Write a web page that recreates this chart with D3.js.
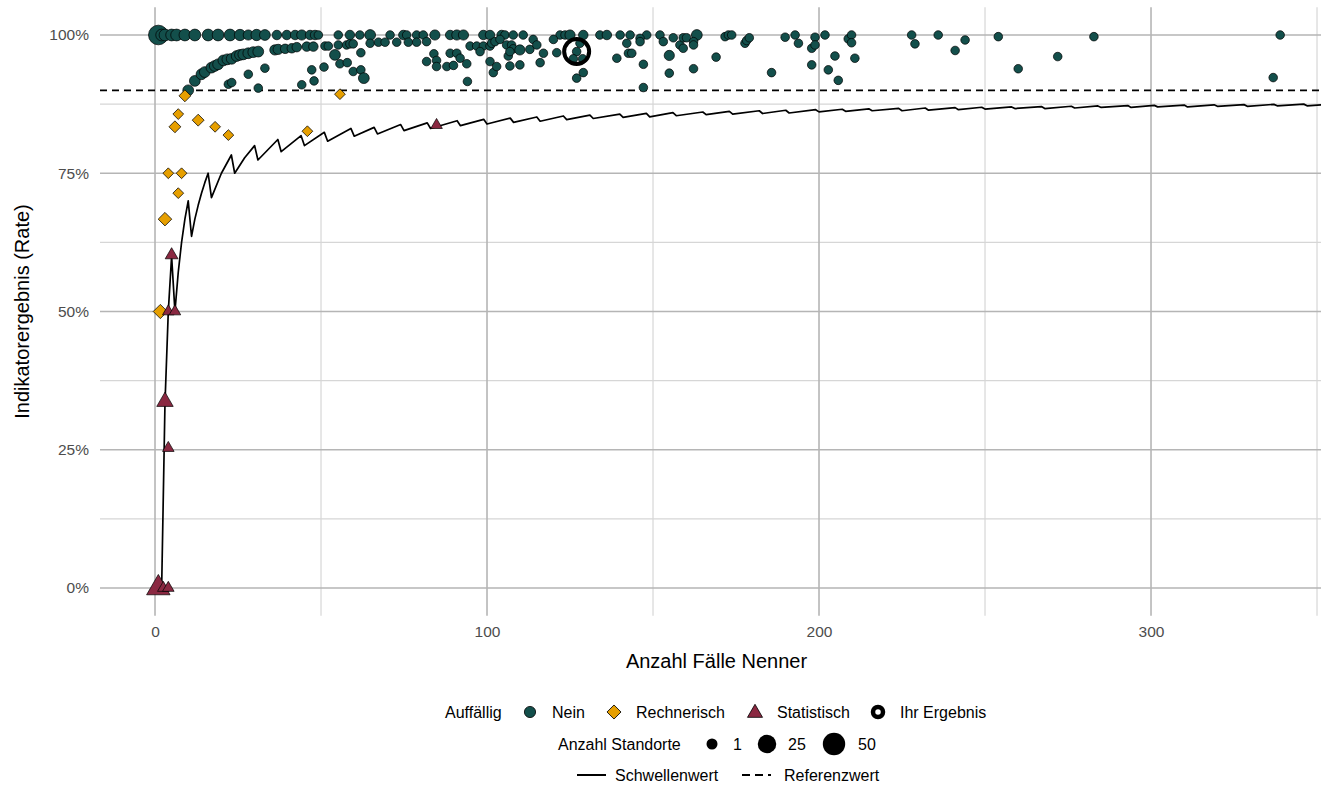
<!DOCTYPE html>
<html lang="de">
<head>
<meta charset="UTF-8">
<title>Indikatorergebnis</title>
<script src="https://cdn.jsdelivr.net/npm/d3@7"></script>
<style>
  body { margin: 0; background: #fff; }
  text { font-family: "Liberation Sans", Arial, Helvetica, sans-serif; }
  .axis-title { fill: #000; font-size: 20px; }
  .legend text { fill: #000; font-size: 16px; }
</style>
</head>
<body>
<script>
// ---- Daten: [Fälle Nenner, Rate, Anzahl Standorte] ----
var neinPoints = [
  // Rate = 100 %
  [1,1,36],[2,1,6],[3,1,6],[5,1,6],[6.5,1,6],[9,1,6],[12,1,6],[16,1,6],[19,1,6],[22.6,1,6],
  [25.6,1,5],[28.1,1,3],[30.6,1,5],[33.1,1,4],[36.7,1,2],[39.7,1,2],[42.2,1,2],[44.2,1,3],
  [46.7,1,2],[48.2,1,2],[49.2,1,1],[55.2,1,1],[58.7,1,2],[61.7,1,1],[64.8,1,4],[70.8,1,1],
  [74.8,1,2],[75.8,1,1],[78.8,1,1],[80.8,1,1],[84.3,1,3],[88.9,1,2],[90.9,1,3],[92.9,1,3],
  [98.9,1,2],[100.9,1,2],[104.4,1,2],[105.4,1,1],[107.9,1,1],[110.9,1,1],[122,1,1],[123.5,1,1],
  [125,1,3],[129,1,2],[134,1,1],[136.1,1,2],[140.1,1,1],[143.1,1,1],[148.1,1,1],[152.1,1,1],
  [163.2,1,4],[171.7,0.997,1],[172.7,1,1],[173.7,1,1],[189.8,0.996,1],[192.8,1,1],[198.8,0.996,1],
  [201.8,1,1],[208.8,0.993,1],[209.8,1,1],[227.9,1,1],[235.9,1,1],[254,0.997,1],[282.8,0.997,1],
  [338.9,1,1],
  // ein Fall nicht erfüllt
  [10,0.9,4],[12,0.917,4],[14,0.929,4],[15,0.933,4],[17,0.941,4],[18,0.944,4],[19,0.947,4],
  [20.6,0.954,4],[21.8,0.956,4],[23.1,0.957,4],[24.6,0.962,4],[25.6,0.964,4],[26.6,0.965,4],
  [28.1,0.967,4],[29.6,0.969,4],[31.1,0.97,4],
  [36.1,0.973,3],[37.1,0.974,3],[39.2,0.975,2],[41.2,0.976,2],[42.7,0.978,2],[45.7,0.979,2],
  [47.7,0.979,2],[51.2,0.98,1],[52.2,0.98,1],[55.2,0.982,1],[57.7,0.982,1],[58.7,0.984,1],
  [59.7,0.984,1],[64.8,0.985,1],[67.3,0.987,1],[69.3,0.987,1],[72.8,0.987,1],[76.3,0.987,1],
  [78.8,0.987,1],[81.8,0.988,1],
  // gestreut, bis 85 Fälle
  [22.1,0.911,1],[23.1,0.914,1],[28.1,0.929,1],[33.1,0.94,1],[31.1,0.904,1],[44.2,0.91,1],
  [47.2,0.937,1],[47.9,0.917,1],[50.9,0.942,1],[54.2,0.964,4],[55.7,0.948,1],[57.9,0.95,1],
  [59.7,0.934,1],[62,0.968,1],[62,0.937,1],[62.9,0.922,4],[81.8,0.952,1],[84,0.966,1],
  [84.8,0.954,1],[84.8,0.943,1],
  // 85 bis 130 Fälle
  [87.9,0.943,1],[89.9,0.945,1],[88.9,0.967,1],[90.9,0.967,1],[91.9,0.958,1],[93.9,0.948,1],
  [94.1,0.916,1],[94.9,0.98,1],[96.9,0.98,1],[98.9,0.98,1],[97.9,0.97,1],[100.9,0.98,1],
  [101.4,0.985,1],[102.4,0.988,1],[103.9,0.992,1],[100.9,0.952,1],[101.9,0.932,1],[102.9,0.943,1],
  [105.9,0.982,1],[107.4,0.982,1],[107.9,0.975,1],[106.4,0.962,1],[106.9,0.97,1],[106.9,0.944,1],
  [109.9,0.973,3],[109.9,0.946,1],[112.9,0.974,1],[113.9,0.992,1],[115,0.982,1],[116,0.95,1],
  [117,0.967,1],[120,0.992,1],[121,0.968,1],[127,0.97,1],[126,0.957,1],[128.8,0.957,1],
  [127,0.922,1],[129,0.932,1],[128,0.985,1],
  // 130 bis 215 Fälle
  [139.1,0.958,1],[142.1,0.985,1],[142.6,0.967,1],[143.6,0.967,1],[146.1,0.994,1],[146.1,0.988,1],
  [147.1,0.947,1],[147.1,0.905,1],[153.1,0.988,1],[154.9,0.963,3],[154.9,0.931,1],[156.1,0.995,1],
  [158.1,0.982,1],[159.1,0.995,1],[160.1,0.995,1],[159.1,0.976,1],[162.2,0.988,1],[162.2,0.982,1],
  [162.2,0.939,1],[169,0.96,1],[177.7,0.985,1],[178.2,0.99,1],[179,0.995,1],[185.7,0.932,1],
  [193.8,0.985,1],[197.8,0.976,1],[198.8,0.982,1],[197.8,0.946,1],[202.8,0.937,1],[204.8,0.962,1],
  [205.8,0.918,1],[209.8,0.986,1],[210.8,0.958,1],
  // über 215 Fälle
  [228.9,0.984,1],[241,0.972,1],[244,0.991,1],[260,0.939,1],[271.9,0.961,1],[336.8,0.923,1]
];

var rechnerischPoints = [
  [1.6,0.5,5],[3,0.667,4],[4,0.75,1],[8,0.75,1],[7,0.714,1],[9,0.89,2],[7,0.857,1],
  [6,0.834,2],[13,0.846,2],[18.1,0.834,1],[22.1,0.819,1],[45.9,0.826,1],[55.7,0.893,1]
];

var statistischPoints = [
  [1,0,25],[2.5,0,1],[4,0,1],[3,0.337,7],[4,0.253,1],[4,0.5,1],[6,0.5,1],[5,0.602,2],[84.8,0.837,1]
];

// Schwellenwert (Eckpunkte der Sägezahnlinie)
var schwelleN = [1,2,3,4,5,6,7,8,9,10,11,12,13,14,15,16,17,20,23,24,27,30,31,37,38,44,45,51,52,
  59,60,66,67,74,75,82,83,91,92,99,100,107,108,115,116,123,124,131,132,140,141,148,149,156,157,
  165,166,173,174,182,183,190,191,199,200,207,208,215,216,224,225,232,233,241,242,249,250,258,259,
  267,268,276,277,284,285,293,294,301,302,310,311,319,320,328,329,337,338,346,347,352];
var schwelleRate = [0,0,0.333,0.5,0.6,0.5,0.571,0.625,0.667,0.7,0.636,0.667,0.692,0.714,0.733,0.75,
  0.706,0.75,0.783,0.75,0.778,0.8,0.774,0.811,0.789,0.818,0.8,0.824,0.808,0.831,0.817,0.833,0.821,
  0.838,0.827,0.841,0.831,0.845,0.836,0.8475,0.839,0.8497,0.842,0.8518,0.844,0.8536,0.847,0.8552,
  0.849,0.8569,0.851,0.8583,0.852,0.8595,0.854,0.8608,0.856,0.8619,0.857,0.863,0.858,0.8639,0.859,
  0.8649,0.861,0.8657,0.862,0.8665,0.863,0.8673,0.863,0.868,0.864,0.8687,0.865,0.8693,0.866,0.87,
  0.867,0.8706,0.867,0.8712,0.868,0.8717,0.869,0.8723,0.869,0.8727,0.87,0.8732,0.87,0.8737,0.871,
  0.8741,0.871,0.8746,0.872,0.875,0.872,0.874];

var referenzwert = 0.9;
var ihrErgebnis = [127, 0.97];

var xTicks = [0, 100, 200, 300];
var xMinor = [50, 150, 250, 350];
var yTicks = [0, 0.25, 0.5, 0.75, 1];
var yMinor = [0.125, 0.375, 0.625, 0.875];
var legendSizes = [1, 25, 50];

// ---- Aufbau ----
var width = 1321, height = 787;
var panel = {left: 100, right: 1321, top: 7.35, bottom: 615.65};

var svg = d3.select("body").append("svg")
  .attr("width", width)
  .attr("height", height);

var x = d3.scaleLinear().domain([-16.57, 351.2]).range([panel.left, panel.right]);
var y = d3.scaleLinear().domain([-0.05, 1.05]).range([panel.bottom, panel.top]);
var size = d3.scaleSqrt().domain([1, 50]).range([4.3, 11]);
var legendSize = d3.scaleSqrt().domain([1, 50]).range([5.5, 11.2]);

var colNein = "#134f4b", colRech = "#e69f00", colStat = "#8a2841";

svg.append("clipPath").attr("id", "panel")
  .append("rect")
  .attr("x", panel.left).attr("y", panel.top)
  .attr("width", panel.right - panel.left).attr("height", panel.bottom - panel.top);

// Gitter
var grid = svg.append("g");
grid.selectAll(".xminor").data(xMinor).enter().append("line")
  .attr("x1", function(d) { return x(d); }).attr("x2", function(d) { return x(d); })
  .attr("y1", panel.top).attr("y2", panel.bottom)
  .attr("stroke", "#d6d6d6").attr("stroke-width", 1.2);
grid.selectAll(".yminor").data(yMinor).enter().append("line")
  .attr("x1", panel.left).attr("x2", panel.right)
  .attr("y1", function(d) { return y(d); }).attr("y2", function(d) { return y(d); })
  .attr("stroke", "#d6d6d6").attr("stroke-width", 1.2);
grid.selectAll(".xmajor").data(xTicks).enter().append("line")
  .attr("x1", function(d) { return x(d); }).attr("x2", function(d) { return x(d); })
  .attr("y1", panel.top).attr("y2", panel.bottom)
  .attr("stroke", "#b5b5b5").attr("stroke-width", 1.6);
grid.selectAll(".ymajor").data(yTicks).enter().append("line")
  .attr("x1", panel.left).attr("x2", panel.right)
  .attr("y1", function(d) { return y(d); }).attr("y2", function(d) { return y(d); })
  .attr("stroke", "#b5b5b5").attr("stroke-width", 1.6);

// Achsen
var xAxis = svg.append("g")
  .attr("transform", "translate(0," + panel.bottom + ")")
  .call(d3.axisBottom(x).tickValues(xTicks).tickSize(0).tickPadding(10).tickFormat(d3.format("d")));
var yAxis = svg.append("g")
  .attr("transform", "translate(" + panel.left + ",0)")
  .call(d3.axisLeft(y).tickValues(yTicks).tickSize(0).tickPadding(11).tickFormat(d3.format(".0%")));
[xAxis, yAxis].forEach(function(a) {
  a.select(".domain").remove();
  a.selectAll("text")
    .attr("fill", "#4d4d4d")
    .style("font-size", "15.5px")
    .style("font-family", "'Liberation Sans', Arial, Helvetica, sans-serif");
});

svg.append("text").attr("class", "axis-title")
  .attr("x", (panel.left + panel.right) / 2 + 6).attr("y", 668)
  .attr("text-anchor", "middle")
  .text("Anzahl Fälle Nenner");
svg.append("text").attr("class", "axis-title")
  .attr("transform", "translate(29," + y(0.5) + ") rotate(-90)")
  .attr("text-anchor", "middle")
  .text("Indikatorergebnis (Rate)");

var plot = svg.append("g").attr("clip-path", "url(#panel)");

// Referenzwert und Schwellenwert
plot.append("line")
  .attr("x1", panel.left).attr("x2", panel.right)
  .attr("y1", y(referenzwert)).attr("y2", y(referenzwert))
  .attr("stroke", "#000").attr("stroke-width", 1.7)
  .attr("stroke-dasharray", "7,5");

var schwelle = schwelleN.map(function(n, i) { return [n, schwelleRate[i]]; });
plot.append("path")
  .datum(schwelle)
  .attr("fill", "none")
  .attr("stroke", "#000")
  .attr("stroke-width", 1.7)
  .attr("stroke-linejoin", "round")
  .attr("d", d3.line().x(function(d) { return x(d[0]); }).y(function(d) { return y(d[1]); }));

// Punkte
function area(c) { var r = size(c); return Math.PI * r * r; }

function drawPoints(data, type, fill, rot) {
  plot.append("g").selectAll("path").data(data).enter().append("path")
    .attr("d", function(d) { return d3.symbol().type(type).size(area(d[2]))(); })
    .attr("transform", function(d) {
      return "translate(" + x(d[0]) + "," + y(d[1]) + ")" + (rot ? " rotate(45)" : "");
    })
    .attr("fill", fill)
    .attr("stroke", "#000")
    .attr("stroke-width", 0.7);
}
drawPoints(neinPoints, d3.symbolCircle, colNein, false);
drawPoints(rechnerischPoints, d3.symbolSquare, colRech, true);
drawPoints(statistischPoints, d3.symbolTriangle, colStat, false);

plot.append("circle")
  .attr("cx", x(ihrErgebnis[0])).attr("cy", y(ihrErgebnis[1]))
  .attr("r", 12.5)
  .attr("fill", "none").attr("stroke", "#000").attr("stroke-width", 4);

// Legende
var lg = svg.append("g").attr("class", "legend");
function ltext(tx, ty, s) {
  lg.append("text").attr("x", tx).attr("y", ty).attr("dy", "0.36em").text(s);
}
function lsym(type, cx, cy, fill, rot) {
  var r = 5.6;
  lg.append("path")
    .attr("d", d3.symbol().type(type).size(Math.PI * r * r)())
    .attr("transform", "translate(" + cx + "," + cy + ")" + (rot ? " rotate(45)" : ""))
    .attr("fill", fill).attr("stroke", "#000").attr("stroke-width", 0.8);
}
var r1 = 712, r2 = 744, r3 = 775;
ltext(445, r1, "Auffällig");
lsym(d3.symbolCircle, 530, r1, colNein, false);
ltext(552, r1, "Nein");
lsym(d3.symbolSquare, 614, r1, colRech, true);
ltext(636, r1, "Rechnerisch");
lsym(d3.symbolTriangle, 755, r1 + 1, colStat, false);
ltext(777, r1, "Statistisch");
lg.append("circle").attr("cx", 878).attr("cy", r1).attr("r", 5)
  .attr("fill", "#fff").attr("stroke", "#000").attr("stroke-width", 4.5);
ltext(900, r1, "Ihr Ergebnis");

ltext(558, r2, "Anzahl Standorte");
var sizeX = [712, 767, 834];
var sizeLabelX = [733, 788, 858];
legendSizes.forEach(function(v, i) {
  lg.append("circle").attr("cx", sizeX[i]).attr("cy", r2).attr("r", legendSize(v)).attr("fill", "#000");
  ltext(sizeLabelX[i], r2, String(v));
});

lg.append("line").attr("x1", 577).attr("x2", 606).attr("y1", r3).attr("y2", r3)
  .attr("stroke", "#000").attr("stroke-width", 2);
ltext(615, r3, "Schwellenwert");
lg.append("line").attr("x1", 742).attr("x2", 771).attr("y1", r3).attr("y2", r3)
  .attr("stroke", "#000").attr("stroke-width", 2).attr("stroke-dasharray", "8,5");
ltext(784, r3, "Referenzwert");
</script>
</body>
</html>
